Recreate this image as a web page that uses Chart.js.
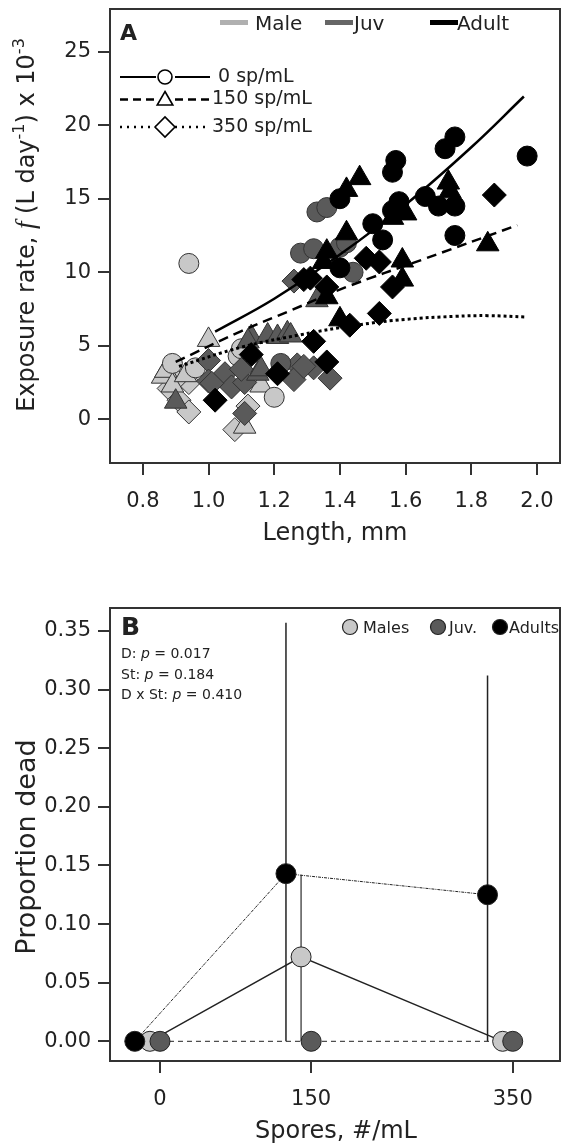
<!DOCTYPE html>
<html lang="en">
  <head>
    <meta charset="UTF-8" />
    <title>Exposure rate and proportion dead</title>
    <script src="https://cdn.jsdelivr.net/npm/chart.js"></script>
    <style>
      html, body { margin: 0; padding: 0; background: #fff; overflow: hidden; }
      canvas { position: absolute; left: 0; display: block; }
      #chartA { top: 0; }
      #chartB { top: 570px; }
    </style>
  </head>
  <body>
    <canvas id="chartA" width="561" height="570"></canvas>
    <canvas id="chartB" width="561" height="575"></canvas>

    <script>
      // ---- Panel A: length (mm) vs exposure rate ----
      const xTicksA = [0.8, 1.0, 1.2, 1.4, 1.6, 1.8, 2.0];
      const yTicksA = [0, 5, 10, 15, 20, 25];

      // [length, exposure rate]
      const male0 = [[0.94, 10.6], [0.89, 3.8], [0.96, 3.5], [1.09, 4.3], [1.10, 4.8], [1.20, 1.5]];
      const male150 = [[1.00, 5.4], [0.86, 2.9], [0.87, 3.3], [0.89, 2.3], [1.11, -0.5], [0.93, 3.0], [1.16, 2.3]];
      const male350 = [[0.88, 2.1], [0.94, 2.5], [0.91, 1.3], [0.94, 0.5], [1.08, -0.7], [1.12, 0.9], [0.90, 2.7]];

      const juv0 = [[1.28, 11.3], [1.32, 11.6], [1.40, 11.7], [1.42, 12.0], [1.44, 10.0], [1.33, 14.1], [1.36, 14.4], [1.22, 3.8]];
      const juv150 = [[0.90, 1.2], [1.13, 5.6], [1.18, 5.7], [1.21, 5.6], [1.24, 5.85], [1.25, 5.7], [1.15, 3.1], [1.16, 3.4], [1.33, 8.1], [1.12, 5.3]];
      const juv350 = [[1.00, 4.0], [1.00, 2.6], [1.05, 3.1], [1.07, 2.2], [1.11, 2.5], [1.10, 3.4], [1.11, 0.4], [1.27, 3.7], [1.32, 3.5], [1.37, 2.8], [1.26, 2.7], [1.26, 9.4], [1.29, 3.6], [1.01, 2.45]];

      const adult0 = [[1.97, 17.9], [1.75, 19.2], [1.72, 18.4], [1.57, 17.6], [1.56, 16.8], [1.40, 15.0], [1.66, 15.15], [1.70, 14.5], [1.75, 14.5], [1.58, 14.8], [1.56, 14.2], [1.75, 12.5], [1.50, 13.3], [1.53, 12.2], [1.40, 10.3]];
      const adult150 = [[1.46, 16.4], [1.42, 15.6], [1.73, 16.1], [1.735, 15.5], [1.85, 11.9], [1.60, 14.0], [1.56, 13.7], [1.42, 12.65], [1.36, 11.4], [1.59, 10.8], [1.59, 9.5], [1.35, 10.7], [1.40, 6.8], [1.36, 8.3]];
      const adult350 = [[1.87, 15.25], [1.48, 10.95], [1.52, 10.7], [1.56, 9.0], [1.29, 9.5], [1.31, 9.6], [1.36, 9.0], [1.52, 7.2], [1.43, 6.4], [1.32, 5.3], [1.36, 3.9], [1.02, 1.3], [1.13, 4.4], [1.21, 3.1]];

      // fitted curves, read at a few lengths
      const fit0 = [[1.02, 5.96], [1.2, 8.2], [1.4, 11.2], [1.6, 14.6], [1.8, 18.5], [1.96, 21.95]];
      const fit150 = [[0.90, 3.9], [1.1, 6.0], [1.25, 7.4], [1.42, 9.0], [1.65, 10.85], [1.94, 13.2]];
      const fit350 = [[0.91, 3.6], [1.1, 4.9], [1.28, 5.75], [1.45, 6.4], [1.6, 6.8], [1.75, 7.0], [1.85, 7.05], [1.97, 6.95]];

      // ---- Panel B: spores vs proportion dead ----
      const doses = [0, 150, 350];
      const yTicksB = [0, 0.05, 0.1, 0.15, 0.2, 0.25, 0.3, 0.35];
      const malesDead = [0, 0.072, 0];
      const juvDead = [0, 0, 0];
      const adultsDead = [0, 0.143, 0.125];
      const malesUpper = [0, 0.142, 0];
      const juvUpper = [0, 0, 0];
      const adultsUpper = [0, 0.357, 0.312];

      const FONT = "'DejaVu Sans', sans-serif";
      const INK = "#222";
      const LIGHT = "#c8c8c8";
      const DARK = "#5a5a5a";

      const pts = (arr) => arr.map((p) => ({ x: p[0], y: p[1] }));

      function marker(ctx, style, x, y, r, fill, stroke, bw) {
        ctx.fillStyle = fill;
        ctx.strokeStyle = stroke;
        ctx.lineWidth = bw;
        Chart.helpers.drawPoint(ctx, { pointStyle: style, radius: r, rotation: 0, borderWidth: bw }, x, y);
      }

      function frame(ctx, a) {
        ctx.strokeStyle = "#333";
        ctx.lineWidth = 2;
        ctx.setLineDash([]);
        ctx.strokeRect(a.left, a.top, a.right - a.left, a.bottom - a.top);
      }

      // rotated label made of pieces: [text, font, baseline shift]
      function richVertical(ctx, parts, bx, cy) {
        let total = 0;
        parts.forEach((p) => { ctx.font = p[1]; total += ctx.measureText(p[0]).width; });
        ctx.save();
        ctx.translate(bx, cy);
        ctx.rotate(-Math.PI / 2);
        ctx.textAlign = "left";
        ctx.textBaseline = "alphabetic";
        let x = -total / 2;
        parts.forEach((p) => {
          ctx.font = p[1];
          ctx.fillText(p[0], x, p[2]);
          x += ctx.measureText(p[0]).width;
        });
        ctx.restore();
      }

      function axisCommon(min, max, tickList, fmt, isX, size) {
        return {
          type: "linear",
          min: min,
          max: max,
          afterBuildTicks: (s) => { s.ticks = tickList.map((v) => ({ value: v })); },
          afterFit: (s) => {
            if (isX) s.height = size; else s.width = size;
            // keep the plot box where the frame is, labels may overhang
            s.paddingLeft = 0; s.paddingRight = 0; s.paddingTop = 0; s.paddingBottom = 0;
          },
          grid: { drawOnChartArea: false, drawTicks: true, tickLength: 12, color: "#333", lineWidth: 2 },
          border: { display: false },
          ticks: {
            color: INK,
            font: { family: FONT, size: 21 },
            padding: isX ? 14 : 7,
            autoSkip: false,
            maxRotation: 0,
            callback: fmt,
          },
        };
      }

      const annotateA = {
        id: "annotateA",
        afterDraw(chart) {
          const ctx = chart.ctx;
          ctx.save();
          frame(ctx, chart.chartArea);
          ctx.fillStyle = INK;
          ctx.textBaseline = "alphabetic";
          ctx.font = "bold 22px " + FONT;
          ctx.fillText("A", 120, 40);

          // group legend
          const groups = [["Male", "#b0b0b0", 220, 255], ["Juv", "#666", 325, 354], ["Adult", "#000", 430, 457]];
          ctx.font = "20px " + FONT;
          groups.forEach((g) => {
            ctx.strokeStyle = g[1];
            ctx.lineWidth = 5;
            ctx.beginPath();
            ctx.moveTo(g[2], 22.5);
            ctx.lineTo(g[2] + 28, 22.5);
            ctx.stroke();
            ctx.fillStyle = INK;
            ctx.fillText(g[0], g[3], 30);
          });

          // dose legend
          const rows = [
            ["0 sp/mL", 77, [], 2, "circle", 7, 218],
            ["150 sp/mL", 99.5, [8, 5], 2.5, "triangle", 9, 212],
            ["350 sp/mL", 127, [2, 5], 2.5, "rectRot", 10, 212],
          ];
          rows.forEach((r) => {
            ctx.strokeStyle = "#000";
            ctx.lineWidth = r[3];
            ctx.setLineDash(r[2]);
            ctx.beginPath();
            ctx.moveTo(120, r[1]); ctx.lineTo(156, r[1]);
            ctx.moveTo(175, r[1]); ctx.lineTo(210, r[1]);
            ctx.stroke();
            ctx.setLineDash([]);
            marker(ctx, r[4], 165, r[1] + (r[4] === "triangle" ? 1 : 0), r[5], "#fff", "#000", 1.6);
            ctx.fillStyle = INK;
            ctx.font = "19px " + FONT;
            ctx.textBaseline = "middle";
            ctx.fillText(r[0], r[6], r[1]);
            ctx.textBaseline = "alphabetic";
          });

          // axis titles
          ctx.fillStyle = INK;
          ctx.font = "24px " + FONT;
          ctx.textAlign = "center";
          ctx.fillText("Length, mm", 335, 540);
          const f = "24px " + FONT;
          const sup = "16px " + FONT;
          richVertical(ctx, [
            ["Exposure rate, ", f, 0],
            ["f", "italic 27px 'Liberation Serif', serif", 0],
            [" (L day", f, 0],
            ["-1", sup, -10],
            [") x 10", f, 0],
            ["-3", sup, -10],
          ], 34, 225);
          ctx.restore();
        },
      };

      const scatterSet = (arr, style, r, fill, stroke) => ({
        data: pts(arr),
        pointStyle: style,
        pointRadius: r,
        pointBackgroundColor: fill,
        pointBorderColor: stroke,
        pointBorderWidth: 1,
        showLine: false,
      });
      const fitSet = (arr, dash, w) => ({
        data: pts(arr),
        showLine: true,
        borderColor: "#000",
        borderWidth: w,
        borderDash: dash,
        tension: 0.4,
        pointRadius: 0,
        fill: false,
      });

      new Chart(document.getElementById("chartA"), {
        type: "scatter",
        data: {
          datasets: [
            fitSet(fit0, [], 2.5),
            fitSet(fit150, [10, 6], 2.5),
            fitSet(fit350, [3, 3], 3),
            scatterSet(adult0, "circle", 10, "#000", "#000"),
            scatterSet(adult150, "triangle", 13, "#000", "#000"),
            scatterSet(adult350, "rectRot", 12, "#000", "#000"),
            scatterSet(juv0, "circle", 10, DARK, "#333"),
            scatterSet(juv150, "triangle", 13, DARK, "#333"),
            scatterSet(juv350, "rectRot", 12, DARK, "#333"),
            scatterSet(male0, "circle", 10, LIGHT, "#333"),
            scatterSet(male150, "triangle", 13, LIGHT, "#333"),
            scatterSet(male350, "rectRot", 12, LIGHT, "#333"),
          ],
        },
        options: {
          responsive: false,
          animation: false,
          events: [],
          devicePixelRatio: 1,
          layout: { autoPadding: false, padding: { top: 9, right: 1, left: 0, bottom: 0 } },
          plugins: { legend: { display: false }, tooltip: { enabled: false } },
          scales: {
            x: axisCommon(0.70, 2.07, xTicksA, (v) => v.toFixed(1), true, 107),
            y: axisCommon(-2.97, 27.9, yTicksA, (v) => String(v), false, 110),
          },
        },
        plugins: [annotateA],
      });

      // ---- Panel B ----
      const dodge = { males: -10, juv: 0, adults: -25 };
      const seriesB = (vals, off) => doses.map((d, i) => ({ x: d + off, y: vals[i] }));

      const annotateB = {
        id: "annotateB",
        beforeDatasetsDraw(chart) {
          const ctx = chart.ctx;
          const sx = chart.scales.x;
          const sy = chart.scales.y;
          ctx.save();
          const bars = [[malesDead, malesUpper, dodge.males, "#555"], [adultsDead, adultsUpper, dodge.adults, "#222"], [juvDead, juvUpper, dodge.juv, "#222"]];
          bars.forEach((b) => {
            doses.forEach((d, i) => {
              if (b[1][i] <= 0) return;
              const x = sx.getPixelForValue(d + b[2]);
              ctx.strokeStyle = b[3];
              ctx.lineWidth = 1.5;
              ctx.beginPath();
              ctx.moveTo(x, sy.getPixelForValue(0));
              ctx.lineTo(x, sy.getPixelForValue(b[1][i]));
              ctx.stroke();
            });
          });
          ctx.restore();
        },
        afterDraw(chart) {
          const ctx = chart.ctx;
          ctx.save();
          frame(ctx, chart.chartArea);
          ctx.fillStyle = INK;
          ctx.textBaseline = "alphabetic";
          ctx.font = "bold 25px " + FONT;
          ctx.fillText("B", 121, 65);

          // p-values
          const stats = [["D: ", " = 0.017", 88], ["St: ", " = 0.184", 108.5], ["D x St: ", " = 0.410", 129]];
          stats.forEach((s) => {
            let x = 121;
            ctx.font = "14px " + FONT;
            ctx.fillText(s[0], x, s[2]);
            x += ctx.measureText(s[0]).width;
            ctx.font = "italic 14px " + FONT;
            ctx.fillText("p", x, s[2]);
            x += ctx.measureText("p").width;
            ctx.font = "14px " + FONT;
            ctx.fillText(s[1], x, s[2]);
          });

          // legend
          const leg = [["Males", LIGHT, 350, 363], ["Juv.", DARK, 438, 449], ["Adults", "#000", 500, 509]];
          ctx.font = "16px " + FONT;
          leg.forEach((l) => {
            marker(ctx, "circle", l[2], 57, 7.5, l[1], "#222", 1.2);
            ctx.fillStyle = INK;
            ctx.fillText(l[0], l[3], 62.5);
          });

          // axis titles
          ctx.font = "24px " + FONT;
          ctx.textAlign = "center";
          ctx.fillText("Spores, #/mL", 336, 568);
          richVertical(ctx, [["Proportion dead", "27px " + FONT, 0]], 35, 277);
          ctx.restore();
        },
      };

      const pointSetB = (vals, off, fill) => ({
        data: seriesB(vals, off),
        pointStyle: "circle",
        pointRadius: 10,
        pointBackgroundColor: fill,
        pointBorderColor: "#222",
        pointBorderWidth: 1,
        showLine: false,
      });
      const lineSetB = (vals, off, dash, w) => ({
        data: seriesB(vals, off),
        showLine: true,
        borderColor: "#222",
        borderWidth: w,
        borderDash: dash,
        pointRadius: 0,
        fill: false,
      });

      new Chart(document.getElementById("chartB"), {
        type: "scatter",
        data: {
          datasets: [
            pointSetB(juvDead, dodge.juv, DARK),
            pointSetB(adultsDead, dodge.adults, "#000"),
            pointSetB(malesDead, dodge.males, LIGHT),
            lineSetB(juvDead, dodge.juv, [5, 4], 1),
            lineSetB(adultsDead, dodge.adults, [3, 1, 1, 1], 1),
            lineSetB(malesDead, dodge.males, [], 1.4),
          ],
        },
        options: {
          responsive: false,
          animation: false,
          events: [],
          devicePixelRatio: 1,
          layout: { autoPadding: false, padding: { top: 38, right: 1, left: 0, bottom: 0 } },
          plugins: { legend: { display: false }, tooltip: { enabled: false } },
          scales: {
            x: axisCommon(-49.6, 396.9, doses, (v) => String(v), true, 84),
            y: axisCommon(-0.0168, 0.3696, yTicksB, (v) => v.toFixed(2), false, 110),
          },
        },
        plugins: [annotateB],
      });
    </script>
  </body>
</html>
